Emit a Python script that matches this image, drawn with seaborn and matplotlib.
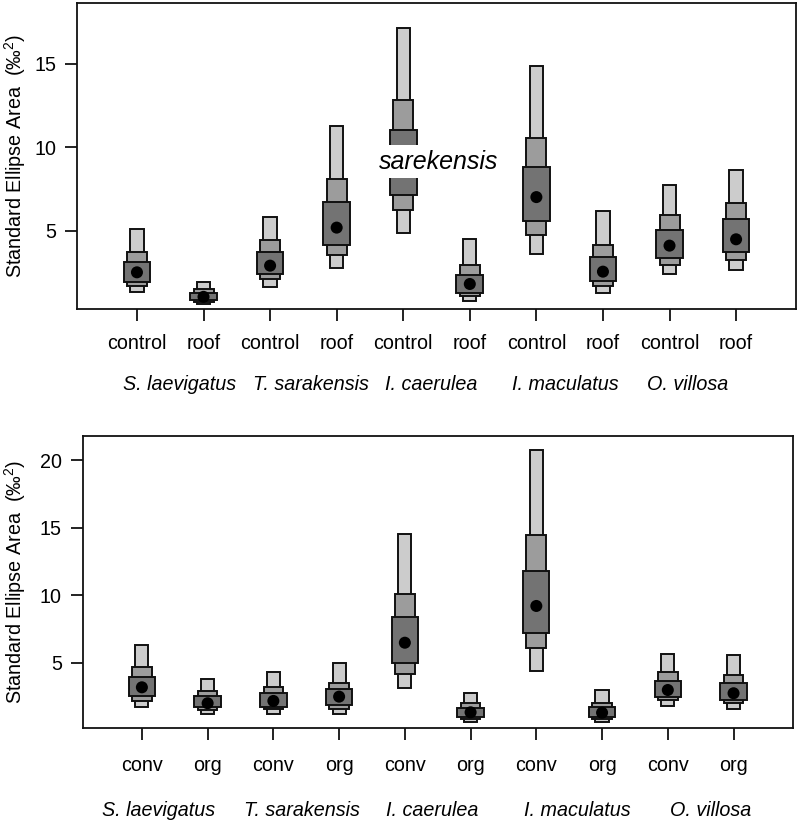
import numpy as np
import pandas as pd
import matplotlib
matplotlib.use("Agg")
from matplotlib import pyplot as plt
from matplotlib import transforms as mtransforms
import seaborn as sns

# ---- data ----
species = ["S. laevigatus", "T. sarakensis", "I. caerulea", "I. maculatus", "O. villosa"]
top_groups = ["control", "roof"] * 5
bot_groups = ["conv", "org"] * 5

# top panel: mode and credible intervals (50, 75, 95 %)
top_mode = [2.50, 1.03, 2.90, 5.18, 9.00, 1.80, 7.01, 2.54, 4.10, 4.48]
top_lo95 = [1.30, 0.60, 1.64, 2.74, 4.84, 0.78, 3.58, 1.24, 2.38, 2.64]
top_hi95 = [5.10, 1.94, 5.84, 11.29, 17.16, 4.50, 14.90, 6.18, 7.75, 8.65]
top_lo75 = [1.70, 0.73, 2.10, 3.54, 6.24, 1.08, 4.72, 1.68, 2.94, 3.24]
top_hi75 = [3.70, 1.48, 4.44, 8.09, 12.86, 2.94, 10.55, 4.14, 5.94, 6.65]
top_lo50 = [1.94, 0.84, 2.40, 4.14, 7.15, 1.28, 5.58, 2.00, 3.34, 3.74]
top_hi50 = [3.14, 1.28, 3.74, 6.74, 11.05, 2.34, 8.79, 3.44, 5.04, 5.68]

# bottom panel
bot_mode = [3.18, 2.00, 2.17, 2.49, 6.48, 1.33, 9.20, 1.30, 2.98, 2.74]
bot_lo95 = [1.70, 1.21, 1.21, 1.21, 3.15, 0.64, 4.39, 0.61, 1.80, 1.55]
bot_hi95 = [6.31, 3.82, 4.34, 4.96, 14.50, 2.78, 20.75, 2.98, 5.65, 5.57]
bot_lo75 = [2.17, 1.50, 1.55, 1.55, 4.14, 0.81, 6.07, 0.81, 2.24, 2.00]
bot_hi75 = [4.71, 2.93, 3.23, 3.52, 10.07, 2.00, 14.46, 2.04, 4.29, 4.09]
bot_lo50 = [2.54, 1.70, 1.75, 1.90, 4.96, 0.96, 7.18, 1.01, 2.44, 2.24]
bot_hi50 = [3.97, 2.54, 2.74, 3.03, 8.36, 1.63, 11.81, 1.70, 3.67, 3.52]

top_yticks = [5, 10, 15]
bot_yticks = [5, 10, 15, 20]

# ---- style ----
sns.set_theme(style="ticks")
plt.rcParams['font.family'] = ['Liberation Sans', 'DejaVu Sans']
plt.rcParams['mathtext.fontset'] = 'custom'
plt.rcParams['mathtext.rm'] = 'Liberation Sans'
plt.rcParams['text.color'] = 'black'
plt.rcParams['axes.labelcolor'] = 'black'
plt.rcParams['axes.linewidth'] = 1.3
plt.rcParams['xtick.major.width'] = 1.3
plt.rcParams['ytick.major.width'] = 1.3

FS = 14.2
colours = {"95": "#cccccc", "75": "#9c9c9c", "50": "#737373"}
widths = {"95": 0.2, "75": 0.3, "50": 0.4}
ylabel = "Standard Ellipse Area  (‰$^{2}$)"


def density_panel(ax, groups, mode, lo95, hi95, lo75, hi75, lo50, hi50,
                  ylim, yticks, label_x, label_y, tick_pad, ylab_x):
    pos = np.arange(1, len(groups) + 1)
    # widest interval first, so the narrower ones sit on top
    for key, lo, hi in [("95", lo95, hi95), ("75", lo75, hi75), ("50", lo50, hi50)]:
        lo = np.asarray(lo)
        hi = np.asarray(hi)
        ax.bar(pos, hi - lo, bottom=lo, width=widths[key], color=colours[key],
               edgecolor="#111111", linewidth=1.4, zorder=2)
    df = pd.DataFrame({"x": pos, "mode": mode})
    sns.scatterplot(data=df, x="x", y="mode", ax=ax, color="black", s=75,
                    edgecolor="none", zorder=3, legend=False)

    ax.set_xlim(0.1, 10.9)
    ax.set_ylim(*ylim)
    ax.set_xticks(pos)
    ax.set_xticklabels(groups, fontsize=FS)
    ax.set_yticks(yticks)
    ax.set_yticklabels([str(t) for t in yticks], fontsize=FS)
    ax.tick_params(axis="x", length=8.5, pad=tick_pad, colors="#111111", labelcolor="black")
    ax.tick_params(axis="y", length=9, pad=6, colors="#111111", labelcolor="black")
    for s in ax.spines.values():
        s.set_visible(True)
        s.set_color("#111111")
    ax.set_xlabel("")
    ax.set_ylabel(ylabel, fontsize=FS, va="center")
    ax.yaxis.set_label_coords(ylab_x, 0.5)

    trans = mtransforms.blended_transform_factory(ax.transData, ax.transAxes)
    for name, lx in zip(species, label_x):
        ax.text(lx, label_y, name, transform=trans, ha="center", va="center",
                fontsize=FS, style="italic")


fig = plt.figure(figsize=(8, 8.26), dpi=100)
ax_top = fig.add_axes([0.0963, 0.6259, 0.8987, 0.3705])
ax_bot = fig.add_axes([0.1034, 0.1190, 0.8875, 0.3535])

density_panel(ax_top, top_groups, top_mode, top_lo95, top_hi95, top_lo75, top_hi75,
              top_lo50, top_hi50, (0.3, 18.65), top_yticks,
              [1.64, 3.62, 5.42, 7.43, 9.27], -0.248, 9.5, -0.086)
density_panel(ax_bot, bot_groups, bot_mode, bot_lo95, bot_hi95, bot_lo75, bot_hi75,
              bot_lo50, bot_hi50, (0.19, 21.8), bot_yticks,
              [1.26, 3.43, 5.42, 7.62, 9.65], -0.282, 12, -0.095)

# stray label that sits on top of the I. caerulea box in the upper panel
ax_top.text(5.53, 9.14, "sarekensis", ha="center", va="center", fontsize=18,
            style="italic", zorder=5,
            bbox=dict(facecolor="white", edgecolor="none", pad=3))

fig.savefig("out.png", dpi=100)
